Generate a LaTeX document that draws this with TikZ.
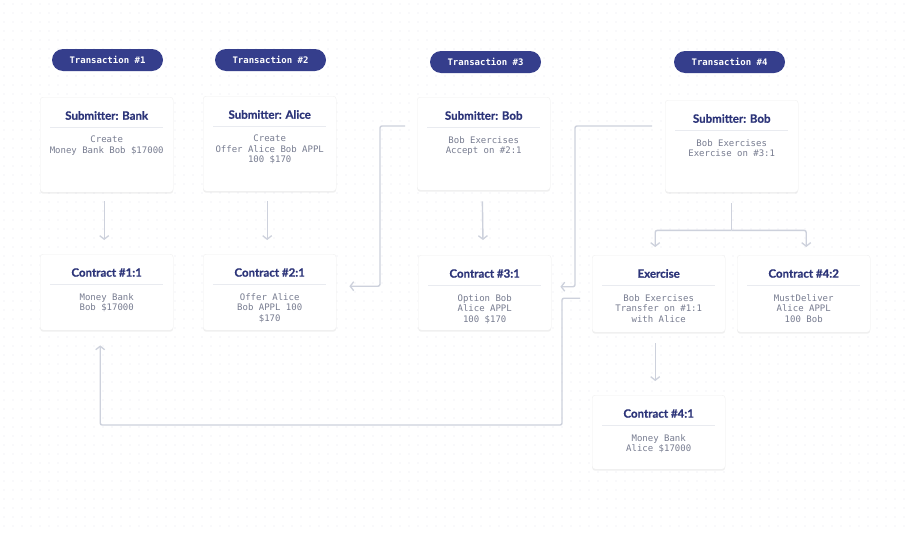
\documentclass[tikz,border=0pt]{standalone}
\usepackage{fontspec}
\setmainfont{Lato}[BoldFeatures={FakeBold=0.6}]
\newfontfamily\monofont{DejaVu Sans Mono}
\usetikzlibrary{arrows.meta,shapes.misc,shadows,calc}
\definecolor{navy}{HTML}{353E8C}
\definecolor{ttlcol}{HTML}{2C3479}
\definecolor{txtcol}{HTML}{777C90}
\definecolor{sepcol}{HTML}{E9EBF0}
\definecolor{arrcol}{HTML}{CDD1DC}
\definecolor{dotcol}{HTML}{E7E9EF}
\tikzset{
  card/.style={fill=white, draw=black!6, rounded corners=3pt, inner sep=0pt,
    minimum width=133pt, anchor=north west,
    drop shadow={shadow xshift=0pt, shadow yshift=-1.5pt, opacity=0.12, fill=black!50}},
  pill/.style={rounded rectangle, fill=navy, text=white, minimum width=111pt,
    minimum height=22pt, inner sep=0pt, font=\monofont\bfseries\fontsize{9}{10}\selectfont},
  ttl/.style={text=ttlcol, font=\bfseries\fontsize{11.5}{13}\selectfont, inner sep=0pt},
  body/.style={text=txtcol, font=\monofont\fontsize{9}{10.5}\selectfont, align=center,
    inner sep=0pt, anchor=north},
  sepline/.style={draw=sepcol, line width=0.8pt},
  conn/.style={draw=arrcol, line width=1.4pt, rounded corners=2pt},
  arr/.style={conn, -{Straight Barb[length=3.5pt,width=9pt,line width=1.3pt]}}
}
\newcommand{\cardcontent}[3]{%
  \node[ttl] (#1t) at ($(#1.north)+(0,18.5)$) {#2};
  \draw[sepline] ($(#1.north west)+(10,30.5)$) -- ($(#1.north east)+(-10,30.5)$);
  \node[body] (#1b) at ($(#1.north)+(0,39)$) {#3};
}
\begin{document}
\begin{tikzpicture}[x=1pt,y=-1pt]
\fill[white] (0,0) rectangle (909,533);
\useasboundingbox (0,0) rectangle (909,533);
\foreach \x in {4,13,...,909}{\foreach \y in {4,13,...,533}{\fill[dotcol] (\x,\y) circle (0.65);}}

% pills
\node[pill] (p1) at (107.5,60) {Transaction \#1};
\node[pill] (p2) at (270.5,60) {Transaction \#2};
\node[pill] (p3) at (485.5,62) {Transaction \#3};
\node[pill] (p4) at (729.5,62) {Transaction \#4};

% transaction cards
\node[card, minimum height=95pt] (t1) at (40,97) {};
\node[card, minimum height=95pt] (t2) at (203,96) {};
\node[card, minimum height=93pt] (t3) at (417,97) {};
\node[card, minimum height=92pt] (t4) at (665,100) {};
\cardcontent{t1}{Submitter: Bank}{Create\\Money Bank Bob \$17000}
\cardcontent{t2}{Submitter: Alice}{Create\\Offer Alice Bob APPL\\100 \$170}
\cardcontent{t3}{Submitter: Bob}{Bob Exercises\\Accept on \#2:1}
\cardcontent{t4}{Submitter: Bob}{Bob Exercises\\Exercise on \#3:1}

% contract cards
\node[card, minimum height=76pt] (c1) at (40,254) {};
\node[card, minimum height=76pt] (c2) at (203,254) {};
\node[card, minimum height=75pt] (c3) at (418,255) {};
\node[card, minimum height=77pt] (ex) at (592,255) {};
\node[card, minimum height=77pt] (c42) at (737,255) {};
\node[card, minimum height=74pt] (c41) at (592,395) {};
\cardcontent{c1}{Contract \#1:1}{Money Bank\\Bob \$17000}
\cardcontent{c2}{Contract \#2:1}{Offer Alice\\Bob APPL 100\\\$170}
\cardcontent{c3}{Contract \#3:1}{Option Bob\\Alice APPL\\100 \$170}
\cardcontent{ex}{Exercise}{Bob Exercises\\Transfer on \#1:1\\with Alice}
\cardcontent{c42}{Contract \#4:2}{MustDeliver\\Alice APPL\\100 Bob}
\cardcontent{c41}{Contract \#4:1}{Money Bank\\Alice \$17000}

% vertical connectors
\draw[arr, shorten <=9pt, shorten >=14pt] ([xshift=-2.5pt]t1.south) -- ([xshift=-2.5pt]c1.north);
\draw[arr, shorten <=10pt, shorten >=14pt] ([xshift=-2.5pt]t2.south) -- ([xshift=-2.5pt]c2.north);
\draw[arr, shorten <=11pt, shorten >=15pt] ([xshift=-1.5pt]t3.south) -- ([xshift=-1.5pt]c3.north);

% split from transaction 4
\coordinate (split) at ($(t4.south)+(0,38)$);
\draw[conn, shorten <=11pt] (t4.south) -- (split);
\draw[arr, shorten >=8pt] (split) -| ([xshift=-3.5pt]ex.north);
\draw[arr, shorten >=8pt] (split) -| ([xshift=2.5pt]c42.north);

\draw[arr, shorten <=11pt, shorten >=14pt] ([xshift=-3.5pt]ex.south) -- ([xshift=-3.5pt]c41.north);

% elbow connectors
\coordinate (s3) at ($(t3.north west)+(-12,29)$);
\draw[arr, shorten >=13pt] (s3) -- ++(-25,0) |- ($(c2.east)+(0,-6)$);
\coordinate (s4) at ($(t4.north west)+(-13,26)$);
\draw[arr, shorten >=9pt] (s4) -- ++(-77,0) |- ($(c3.east)+(0,-6)$);
\coordinate (se) at ($(ex.west)+(-12,4.5)$);
\draw[arr, shorten >=15pt] (se) -- ++(-18,0) |- ([xshift=-6.5pt]c1.south |- 0,425) -- ([xshift=-6.5pt]c1.south);
\end{tikzpicture}
\end{document}
